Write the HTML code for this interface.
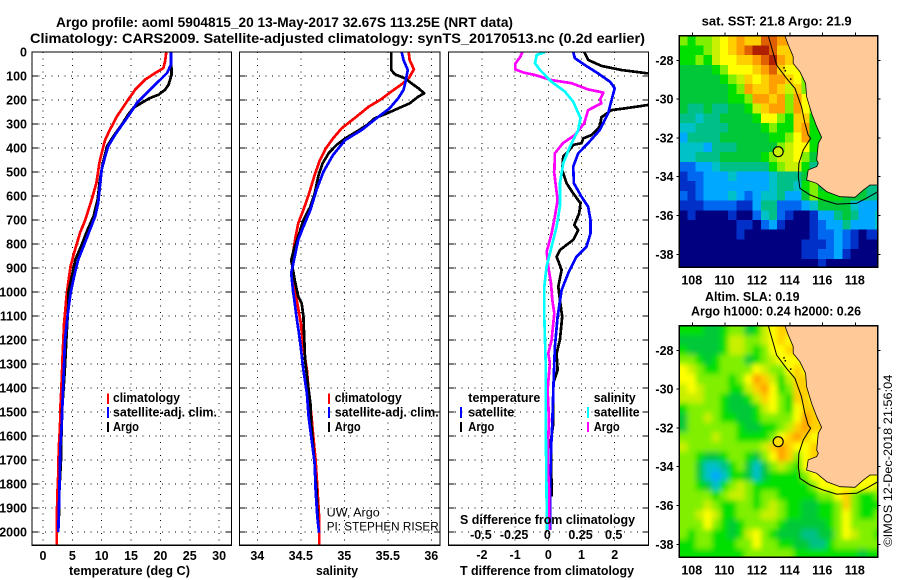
<!DOCTYPE html>
<html>
<head>
<meta charset="utf-8">
<title>Argo profile 5904815_20</title>
<style>
  html, body { margin: 0; padding: 0; background: #fff; }
  #page { position: relative; width: 900px; height: 580px; overflow: hidden; background: #fff; }
  svg { display: block; }
  text { font-family: "Liberation Sans", sans-serif; fill: #000; }
  .b { font-weight: bold; font-size: 12.5px; }
  .t { font-weight: bold; font-size: 14px; }
  .r { font-size: 12px; }
</style>
</head>
<body>
<div id="page">
<svg id="chart" width="900" height="580" viewBox="0 0 900 580" xmlns="http://www.w3.org/2000/svg">
  <defs>
    <clipPath id="clipP1"><rect x="32" y="52" width="199.5" height="493.3"/></clipPath>
    <clipPath id="clipP2"><rect x="239.5" y="52" width="200.5" height="493.3"/></clipPath>
    <clipPath id="clipP3"><rect x="448.5" y="52" width="200" height="493.3"/></clipPath>
    <clipPath id="clipM1"><rect x="679.3" y="35.7" width="198.4" height="231.6"/></clipPath>
    <clipPath id="clipM2"><rect x="679.3" y="325.7" width="198.4" height="231.6"/></clipPath>
    <filter id="smooth" x="-5%" y="-5%" width="110%" height="110%"><feGaussianBlur stdDeviation="2.6"/></filter>
  </defs>

  <text class="t" x="56" y="27" textLength="457" lengthAdjust="spacingAndGlyphs">Argo profile: aoml 5904815_20 13-May-2017 32.67S 113.25E (NRT data)</text>
  <text class="t" x="30" y="43" textLength="615" lengthAdjust="spacingAndGlyphs">Climatology: CARS2009. Satellite-adjusted climatology: synTS_20170513.nc (0.2d earlier)</text>

  <g id="layerP1"></g>
  <g id="layerP2"></g>
  <g id="layerP3"></g>
  <g id="layerM1"></g>
  <g id="layerM2"></g>

  <text class="b" x="69" y="575" textLength="121" lengthAdjust="spacingAndGlyphs">temperature (deg C)</text>
  <text class="b" x="316" y="575" textLength="42" lengthAdjust="spacingAndGlyphs">salinity</text>
  <text class="b" x="460" y="575" textLength="174" lengthAdjust="spacingAndGlyphs">T difference from climatology</text>
  <text class="b" x="460" y="524" textLength="175" lengthAdjust="spacingAndGlyphs">S difference from climatology</text>

  <g>
    <rect x="107" y="393.5" width="2" height="10.5" fill="#ff0000"/>
    <rect x="107" y="407" width="2" height="11" fill="#0000ff"/>
    <rect x="107" y="422" width="2" height="10" fill="#000"/>
    <text class="b" x="113" y="402" textLength="67" lengthAdjust="spacingAndGlyphs">climatology</text>
    <text class="b" x="113" y="416.5" textLength="104" lengthAdjust="spacingAndGlyphs">satellite-adj. clim.</text>
    <text class="b" x="113" y="431" textLength="26" lengthAdjust="spacingAndGlyphs">Argo</text>
  </g>
  <g>
    <rect x="328" y="393.5" width="2" height="10.5" fill="#ff0000"/>
    <rect x="328" y="407" width="2" height="11" fill="#0000ff"/>
    <rect x="328" y="422" width="2" height="10" fill="#000"/>
    <text class="b" x="334.7" y="402" textLength="67" lengthAdjust="spacingAndGlyphs">climatology</text>
    <text class="b" x="334.7" y="416.5" textLength="104" lengthAdjust="spacingAndGlyphs">satellite-adj. clim.</text>
    <text class="b" x="334.7" y="431" textLength="26" lengthAdjust="spacingAndGlyphs">Argo</text>
  </g>
  <g>
    <text class="b" x="468.3" y="402" textLength="72" lengthAdjust="spacingAndGlyphs">temperature</text>
    <rect x="460" y="407" width="2" height="11" fill="#0000ff"/>
    <rect x="460" y="422" width="2" height="10" fill="#000"/>
    <text class="b" x="468.3" y="416.5" textLength="46" lengthAdjust="spacingAndGlyphs">satellite</text>
    <text class="b" x="468.3" y="431" textLength="26" lengthAdjust="spacingAndGlyphs">Argo</text>
    <text class="b" x="593.7" y="402" textLength="42" lengthAdjust="spacingAndGlyphs">salinity</text>
    <rect x="587" y="407" width="2" height="11" fill="#00ffff"/>
    <rect x="587" y="422" width="2" height="10" fill="#ff00ff"/>
    <text class="b" x="593.7" y="416.5" textLength="46" lengthAdjust="spacingAndGlyphs">satellite</text>
    <text class="b" x="593.7" y="431" textLength="26" lengthAdjust="spacingAndGlyphs">Argo</text>
  </g>

  <text class="r" x="326.7" y="516.7" textLength="53" lengthAdjust="spacingAndGlyphs">UW, Argo</text>
  <text class="r" x="326.7" y="530.7" textLength="112" lengthAdjust="spacingAndGlyphs">PI: STEPHEN RISER</text>

  <text class="b" x="701.7" y="25.7" textLength="150" lengthAdjust="spacingAndGlyphs">sat. SST: 21.8 Argo: 21.9</text>
  <text class="b" x="705" y="301" textLength="94.5" lengthAdjust="spacingAndGlyphs">Altim. SLA: 0.19</text>
  <text class="b" x="691" y="315.7" textLength="170" lengthAdjust="spacingAndGlyphs">Argo h1000: 0.24 h2000: 0.26</text>
  <text class="r" transform="translate(892,546.7) rotate(-90)" textLength="172" lengthAdjust="spacingAndGlyphs">©IMOS 12-Dec-2018 21:56:04</text>
</svg>
</div>

<script>
// ---- axis tick values ----
const depthTicks = [0,100,200,300,400,500,600,700,800,900,1000,1100,1200,1300,1400,1500,1600,1700,1800,1900,2000];
const tempTicks = [0,5,10,15,20,25,30];
const salTicks = [34,34.5,35,35.5,36];
const salTickLabels = ['34','34.5','35','35.5','36'];
const tDiffTicks = [-2,-1,0,1,2];
const sDiffTicks = [-0.5,-0.25,0,0.25,0.5];
const sDiffTickLabels = ['-0.5','-0.25','0','0.25','0.5'];
const lonTicks = [108,110,112,114,116,118];
const latTicks = [28,30,32,34,36,38];

// ---- temperature profiles (depth m, deg C) ----
const tempClimDepth = [0,39,67,88,115,157,199,268,324,365,421,462,546,615,699,754,837,893,962,1018,1075,1130,1255,1360,1464,1560,1658,1755,1840,1964,2055];
const tempClim = [21.0,20.8,20.5,19.1,17.4,15.7,14.5,12.6,11.4,10.6,10.0,9.6,9.1,8.3,7.2,6.3,5.3,4.7,4.3,4.0,3.8,3.6,3.35,3.2,3.0,2.9,2.67,2.6,2.45,2.33,2.33];
const tempArgoDepth = [0,94,136,157,178,192,212,233,261,303,351,393,462,532,615,685,740,803,865,935,1004,1061,1186,1311,1408,1506,1700,1825,1978];
const tempArgo = [21.8,21.9,21.4,20.8,19.7,18.2,16.8,15.4,14.5,13.4,12.0,10.9,10.2,9.7,9.3,8.6,7.6,6.6,5.5,4.9,4.3,4.3,4.0,3.75,3.5,3.2,3.07,2.8,2.67];
const tempSatDepth = [0,53,88,129,171,212,247,296,344,393,435,490,560,629,685,740,810,865,935,1004,1103,1200,1297,1436,1547,1645,1825,1999];
const tempSat = [21.8,21.8,21.1,19.4,17.7,16.0,15.1,13.7,12.3,11.1,10.6,10.0,9.7,9.4,8.9,8.0,6.9,6.0,5.3,4.7,4.15,3.75,3.6,3.35,3.2,2.95,2.8,2.6];

// ---- salinity profiles (depth m, psu) ----
const salClimDepth = [0,33,72,110,137,165,200,228,269,318,360,401,450,512,596,658,714,769,839,894,950,1006,1130,1228,1325,1408,1506,1589,1700,1811,1936,2055];
const salClim = [35.74,35.75,35.80,35.74,35.65,35.54,35.41,35.28,35.14,34.97,34.87,34.79,34.72,34.66,34.59,34.53,34.47,34.44,34.41,34.40,34.40,34.44,34.50,34.53,34.57,34.59,34.62,34.64,34.67,34.69,34.71,34.71];
const salArgoDepth = [0,75,93,110,130,151,172,186,214,235,256,276,304,332,360,387,422,464,519,589,644,700,769,811,867,908,950,1019,1047,1103,1200,1283,1380,1464,1547,1700,1825,1975];
const salArgo = [35.54,35.54,35.58,35.70,35.77,35.85,35.92,35.85,35.75,35.62,35.49,35.35,35.26,35.14,35.01,34.91,34.82,34.75,34.70,34.66,34.61,34.53,34.47,34.43,34.39,34.41,34.43,34.47,34.51,34.53,34.54,34.55,34.58,34.61,34.62,34.655,34.68,34.70];
const salSatDepth = [0,33,75,130,158,193,235,276,325,367,429,499,575,658,728,783,853,922,992,1103,1200,1325,1422,1519,1603,1714,1825,1936,2003];
const salSat = [35.66,35.68,35.73,35.70,35.68,35.62,35.52,35.37,35.20,35.01,34.87,34.76,34.68,34.61,34.53,34.47,34.43,34.39,34.41,34.45,34.49,34.53,34.57,34.59,34.62,34.66,34.67,34.69,34.71];

// ---- difference profiles ----
const dTArgoDepth = [0,33,58,75,89,110,200,221,235,242,272,311,346,360,380,387,415,436,492,547,589,630,672,721,742,783,825,853,908,978,1033,1103,1200,1256,1325,1380,1547,1617,1853];
const dTArgo = [1.08,1.2,1.6,2.2,3.0,3.6,3.6,3.0,2.3,1.9,1.6,1.55,1.3,1.05,1.0,0.75,0.6,0.45,0.42,0.55,0.75,0.97,0.93,0.78,0.9,0.75,0.35,0.25,0.4,0.3,0.35,0.42,0.35,0.25,0.28,0.15,0.15,0.08,0.1];
const dTSatDepth = [0,26,54,89,124,151,214,256,325,380,422,478,547,603,644,700,756,811,853,922,992,1103,1228,1408,1547,1658,1825,1991];
const dTSat = [0.75,0.8,1.1,1.5,1.86,2.0,1.88,1.8,1.55,1.2,0.9,0.75,0.77,1.0,1.2,1.27,1.27,1.15,0.85,0.6,0.4,0.28,0.2,0.15,0.12,0.08,0.05,0.05];
const dSArgoDepth = [0,19,50,72,85,96,117,130,156,169,197,214,242,297,346,380,422,506,617,686,756,832,894,964,1033,1089,1200,1256,1297,1408,1533,1686,1825,1991];
const dSArgo = [-0.195,-0.21,-0.25,-0.25,-0.19,-0.10,0.025,0.175,0.30,0.415,0.39,0.40,0.30,0.27,0.20,0.11,0.05,0.045,0.07,0.05,0.025,-0.012,0,0.02,0.03,0.045,0.025,0,0.012,-0.005,0.005,-0.005,0.005,0.005];
const dSSatDepth = [0,6,12,47,75,124,165,207,276,325,394,464,547,644,728,811,894,978,1033,1103,1283,1500,1756,1991];
const dSSat = [-0.025,-0.05,-0.0875,-0.10,-0.0625,0.025,0.125,0.1875,0.2425,0.225,0.1625,0.1125,0.0875,0.0875,0.0625,0.025,-0.0125,-0.03,-0.03,-0.03,-0.02,-0.02,-0.015,-0.01];

// ---- map colour levels (0 = coldest/lowest, 14 = warmest/highest), 0.5 degree cells ----
const sstGrid = [
[8,7,8,8,9,10,11,12,11,11,13,13,12,12,12],
[7,7,7,8,9,10,11,12,13,14,14,13,11,11,11],
[7,7,8,7,9,10,10,11,11,12,13,14,12,11,11],
[6,6,6,6,7,8,10,10,10,11,12,13,11,10,10,10],
[6,6,6,6,6,7,8,9,11,10,11,12,12,11,10,8,8],
[6,6,6,6,6,6,7,8,12,11,11,12,11,9,11,8,8],
[6,6,6,6,6,6,7,7,8,12,12,11,12,8,12,10,8],
[6,5,5,6,5,5,6,6,7,9,11,12,12,8,12,10,8,8],
[5,5,4,5,5,6,6,6,6,7,10,10,8,7,11,11,7,7],
[4,4,5,5,5,5,6,6,6,6,7,8,7,7,11,12,7,7,7],
[3,5,5,5,5,6,6,6,6,6,6,7,7,8,10,12,7,7,7],
[4,4,4,3,5,5,5,6,6,6,6,6,8,9,10,10,7,7],
[4,4,5,5,5,6,6,6,6,6,7,8,9,9,10,8,6,6],
[2,2,3,3,4,5,5,5,5,5,5,7,8,9,9,7,5,5],
[1,2,2,3,3,3,4,3,3,3,3,4,5,5,5,6,6],
[1,1,2,3,3,3,3,3,3,3,3,4,5,5,4,7,8,6,6,6,6,6,6,5,5],
[2,1,2,3,3,3,4,3,2,3,4,4,5,3,3,6,8,7,7,7,6,6,6,5,5],
[1,1,1,2,2,2,2,1,1,3,5,5,2,2,2,3,4,6,6,6,6,4,3,3,3],
[0,1,0,0,0,0,1,0,0,2,4,5,2,1,0,0,1,3,3,5,6,5,3,3,4],
[0,0,0,0,0,0,0,1,1,0,2,3,1,0,0,0,1,2,3,3,5,3,3,3,4],
[0,0,0,0,0,0,0,1,0,0,0,0,0,0,0,0,1,2,2,3,2,1,0,1,1],
[0,0,0,0,0,0,0,0,0,0,0,0,0,0,0,1,1,1,2,3,2,1,0,0,0],
[0,0,0,0,0,0,0,0,0,0,0,0,0,0,0,1,1,2,2,3,1,0,0,0,0],
[0,0,0,0,0,0,0,0,0,0,0,0,0,0,0,0,0,1,0,0,0,0,0,0,0]
];
const slaGrid = [
[7,7,7,6,6,7,8,8,6,7,9,10,11,11,11,11,11,11],
[6,6,6,6,6,7,9,9,8,8,9,10,11,10,10,10,10,10],
[7,6,6,6,6,7,9,9,8,7,8,10,10,11,11,11,11,11],
[8,8,7,6,7,8,8,8,6,7,8,9,10,10,10,10,10,10],
[10,9,8,7,7,8,8,8,8,10,9,8,8,10,11,10,10,10],
[10,10,8,8,8,8,7,8,10,12,11,9,7,9,11,11,11,11],
[9,10,9,8,8,8,7,7,9,11,12,10,7,8,11,11,11,11],
[9,9,9,8,8,7,6,6,7,9,11,10,8,7,11,11,10,10],
[7,8,8,8,8,7,6,6,6,7,9,10,8,7,10,11,11,11],
[6,8,8,9,8,7,7,6,6,7,8,8,8,8,10,12,11,11],
[6,8,8,8,8,8,8,7,6,6,7,7,8,9,11,12,11,11],
[8,8,8,8,9,8,8,7,7,7,7,8,10,11,12,11,10,10],
[9,8,8,8,8,8,8,8,8,8,9,11,12,11,10,10,11,11],
[8,8,7,6,6,7,8,8,7,6,8,10,12,11,8,10,11,11],
[8,8,6,4,4,5,7,8,6,4,6,8,9,8,7,10,10,10],
[8,8,6,4,3,4,7,7,6,4,6,7,7,7,7,8,10,10,10,10,10,10,10,10,10],
[8,8,7,6,4,7,8,9,8,7,7,7,7,7,7,7,8,10,10,10,10,10,10,10,9],
[8,8,8,8,7,8,9,9,8,7,8,8,7,7,7,7,7,8,8,10,11,8,7,7,8],
[8,8,8,9,8,7,7,8,8,7,8,9,8,7,7,6,6,7,7,8,11,8,7,7,7],
[8,8,9,10,9,7,7,8,8,8,9,9,8,7,7,6,6,7,7,8,10,8,7,7,8],
[8,8,8,10,8,7,6,7,8,8,8,8,7,6,6,6,6,6,7,8,10,8,8,8,8],
[8,7,8,8,7,7,6,7,9,10,8,7,6,6,6,5,5,6,6,8,10,9,8,8,7],
[7,7,8,8,7,7,7,8,8,10,8,8,7,7,6,6,5,5,7,8,8,8,8,8,8],
[7,7,7,7,7,7,7,7,8,8,8,8,8,8,7,7,7,7,7,7,7,7,6,7,7]
];
const levelColors = ['#000080','#0030c8','#0068f0','#00a8ff','#00c0c8','#00c088','#00c838','#00e000','#80f000','#c8f000','#ffff00','#ffd000','#ffa000','#e06000','#b02000'];

// ---- coastline, shelf contour, islets and float position (lon E, lat S) ----
const coastLon = [113.68,113.89,114.19,114.19,114.6,114.95,115.01,115.32,115.63,115.93,115.73,115.63,115.73,115.63,115.11,115.01,115.63,116.24,117.06,117.98,118.49,118.9,119.4];
const coastLat = [26.73,27.21,27.81,28.16,28.59,29.19,29.87,30.73,31.42,31.97,32.28,33.14,33.31,33.48,33.65,34.17,34.34,34.77,35.03,35.06,34.69,34.43,34.43];
const shelfLon = [112.66,112.97,113.17,113.78,114.3,114.7,114.91,115.11,115.26,114.81,114.54,114.5,114.6,115.22,116.03,116.85,118.08,118.69,119.4];
const shelfLat = [26.73,27.64,28.24,28.93,29.45,30.39,31.25,31.85,32.02,32.62,33.31,34.0,34.6,34.94,35.2,35.41,35.37,35.11,34.77];
const isletLon = [113.58,113.66,113.99];
const isletLat = [28.35,28.5,28.93];
const floatLon = 113.27;
const floatLat = 32.71;

const NS = 'http://www.w3.org/2000/svg';
function mk(tag, parent, attrs, txt) {
  const e = document.createElementNS(NS, tag);
  for (const k in attrs) e.setAttribute(k, attrs[k]);
  if (txt !== undefined) e.textContent = txt;
  parent.appendChild(e);
  return e;
}
const Y0 = 52, Y1 = 545.3;
const yD = d => 52 + 0.24 * d;
const xT = v => 43 + 5.87 * v;
const xS = v => 257.3 + 87 * (v - 34);
const xDT = v => 548.3 + 33.2 * v;
const xDS = v => 548.3 + 132.8 * v;

function drawAxes(layer, x0, x1, gridVals, xf, labels, labelY) {
  const grid = mk('g', layer, {fill:'none', stroke:'#000', 'stroke-width':1, 'stroke-dasharray':'1 5.5', 'shape-rendering':'crispEdges'});
  
  
  gridVals.forEach(v => {
    const ln = mk('line', grid, {x1:xf(v), x2:xf(v), y1:Y0, y2:Y1});
    
    
  });
  depthTicks.slice(1).forEach(d => {
    const ln = mk('line', grid, {x1:x0, x2:x1, y1:yD(d), y2:yD(d)});
    
    
  });
  const ticks = mk('g', layer, {stroke:'#000', 'stroke-width':1, 'shape-rendering':'crispEdges'});
  
  
  depthTicks.slice(1).forEach(d => {
    const a = mk('line', ticks, {x1:x0, x2:x0+6, y1:yD(d), y2:yD(d)});
    
    
    const b = mk('line', ticks, {x1:x1-6, x2:x1, y1:yD(d), y2:yD(d)});
    
    
  });
  gridVals.forEach((v, i) => {
    const t = mk('text', layer, {class:'b', x:xf(v), y:labelY, 'text-anchor':'middle'}, labels[i]);
    
    
  });
}
function drawFrame(layer, x0, x1) {
  const f = mk('rect', layer, {x:x0, y:Y0, width:x1-x0, height:Y1-Y0, fill:'none', stroke:'#000', 'stroke-width':1.4, 'shape-rendering':'crispEdges'});
  
  
}
function drawLine(layer, vals, depths, xf, color, clip, name, w) {
  const d = vals.map((v, i) => (i ? 'L' : 'M') + xf(v).toFixed(1) + ' ' + yD(depths[i]).toFixed(1)).join('');
  const p = mk('path', layer, {d:d, fill:'none', stroke:color, 'stroke-width':w || 2.7, 'stroke-linejoin':'round', 'clip-path':'url(#' + clip + ')', 'shape-rendering':'crispEdges'});
  
  
}

// Temperature panel
const p1 = document.getElementById('layerP1');
drawAxes(p1, 32, 231.5, tempTicks, xT, tempTicks.map(String), 560);
drawLine(p1, tempClim, tempClimDepth, xT, '#ff0000', 'clipP1', 'temperature-climatology-line');
drawLine(p1, tempArgo, tempArgoDepth, xT, '#000000', 'clipP1', 'temperature-argo-line');
drawLine(p1, tempSat, tempSatDepth, xT, '#0000ff', 'clipP1', 'temperature-satellite-line');
drawFrame(p1, 32, 231.5);
depthTicks.forEach(d => {
  const t = mk('text', p1, {class:'b', x:27, y:yD(d)+4.5, 'text-anchor':'end'}, String(d));
  
  
});

// Salinity panel
const p2 = document.getElementById('layerP2');
drawAxes(p2, 239.5, 440, salTicks, xS, salTickLabels, 560);
drawLine(p2, salClim, salClimDepth, xS, '#ff0000', 'clipP2', 'salinity-climatology-line');
drawLine(p2, salArgo, salArgoDepth, xS, '#000000', 'clipP2', 'salinity-argo-line');
drawLine(p2, salSat, salSatDepth, xS, '#0000ff', 'clipP2', 'salinity-satellite-line');
drawFrame(p2, 239.5, 440);

// Difference panel
const p3 = document.getElementById('layerP3');
drawAxes(p3, 448.5, 648.5, tDiffTicks, xDT, tDiffTicks.map(String), 559);
drawLine(p3, dTArgo, dTArgoDepth, xDT, '#000000', 'clipP3', 'dt-argo-line');
drawLine(p3, dTSat, dTSatDepth, xDT, '#0000ff', 'clipP3', 'dt-satellite-line');
drawLine(p3, dSArgo, dSArgoDepth, xDS, '#ff00ff', 'clipP3', 'ds-argo-line');
drawLine(p3, dSSat, dSSatDepth, xDS, '#00ffff', 'clipP3', 'ds-satellite-line');
drawFrame(p3, 448.5, 648.5);
sDiffTicks.forEach((v, i) => {
  const t = mk('text', p3, {class:'b', x:xDS(v)-1, y:539, 'text-anchor':'middle'}, sDiffTickLabels[i]);
  
  
});

// Maps
function drawMap(layer, top, grid, clip, blur, label, markerFill) {
  const xLon = lon => 692.3 + 16.3 * (lon - 108);
  const yLat = lat => top + 24.6 + 19.4 * (lat - 28);
  const L = 107.2, T = 26.73, L0 = 679.3, R0 = 877.7, B0 = top + 231.6;
  const outer = mk('g', layer, {'clip-path':'url(#' + clip + ')'});
  
  
  const cells = mk('g', outer, blur ? {filter:'url(#smooth)'} : {'shape-rendering':'crispEdges'});
  
  
  grid.forEach((row, j) => row.forEach((v, i) => {
    let x = xLon(L + 0.5 * i), y = yLat(T + 0.5 * j);
    let w = 16.3 * 0.5 + 0.5, h = 19.4 * 0.5 + 0.5;
    if (blur) {
      if (i === 0) { x -= 20; w += 20; }
      if (i === row.length - 1) { w += 20; }
      if (j === 0) { y -= 20; h += 20; }
      if (j === grid.length - 1) { h += 20; }
    }
    const r = mk('rect', cells, {x:x.toFixed(2), y:y.toFixed(2), width:w.toFixed(2), height:h.toFixed(2), fill:levelColors[v]});
    
    
  }));
  const coastPts = coastLon.map((lo, i) => xLon(lo).toFixed(1) + ',' + yLat(coastLat[i]).toFixed(1)).join(' ');
  const land = mk('polygon', outer, {points: coastPts + ' ' + xLon(119.4) + ',' + yLat(26.73), fill:'#ffc998', stroke:'#000', 'stroke-width':0.8});
  
  
  const shelf = mk('polyline', outer, {points: shelfLon.map((lo, i) => xLon(lo).toFixed(1) + ',' + yLat(shelfLat[i]).toFixed(1)).join(' '), fill:'none', stroke:'#000', 'stroke-width':1});
  
  
  isletLon.forEach((lo, i) => {
    const dot = mk('rect', outer, {x:xLon(lo), y:yLat(isletLat[i]), width:1.5, height:1.5, fill:'#000'});
    
    
  });
  const marker = mk('circle', outer, {cx:xLon(floatLon), cy:yLat(floatLat), r:5, fill:markerFill, stroke:'#000', 'stroke-width':1.2});
  
  
  const frame = mk('rect', layer, {x:L0, y:top, width:R0-L0, height:B0-top, fill:'none', stroke:'#000', 'stroke-width':1.2, 'shape-rendering':'crispEdges'});
  
  
  lonTicks.forEach(lo => {
    const tk = mk('line', layer, {x1:xLon(lo), x2:xLon(lo), y1:top-3, y2:top, stroke:'#000', 'shape-rendering':'crispEdges'});
    
    
    const t = mk('text', layer, {class:'b', x:xLon(lo)-0.5, y:B0+17, 'text-anchor':'middle', 'font-size':'13px'}, String(lo));
    
    
  });
  latTicks.forEach(la => {
    const a = mk('line', layer, {x1:L0-3, x2:L0, y1:yLat(la), y2:yLat(la), stroke:'#000', 'shape-rendering':'crispEdges'});
    
    
    const b = mk('line', layer, {x1:R0, x2:R0+3, y1:yLat(la), y2:yLat(la), stroke:'#000', 'shape-rendering':'crispEdges'});
    
    
    const t = mk('text', layer, {class:'b', x:673.5, y:yLat(la)+4.5, 'text-anchor':'end'}, '-' + la);
    
    
  });
}
drawMap(document.getElementById('layerM1'), 35.7, sstGrid, 'clipM1', false, 'sst', '#c8f000');
drawMap(document.getElementById('layerM2'), 325.7, slaGrid, 'clipM2', true, 'sla', '#ffe000');
</script>
</body>
</html>
